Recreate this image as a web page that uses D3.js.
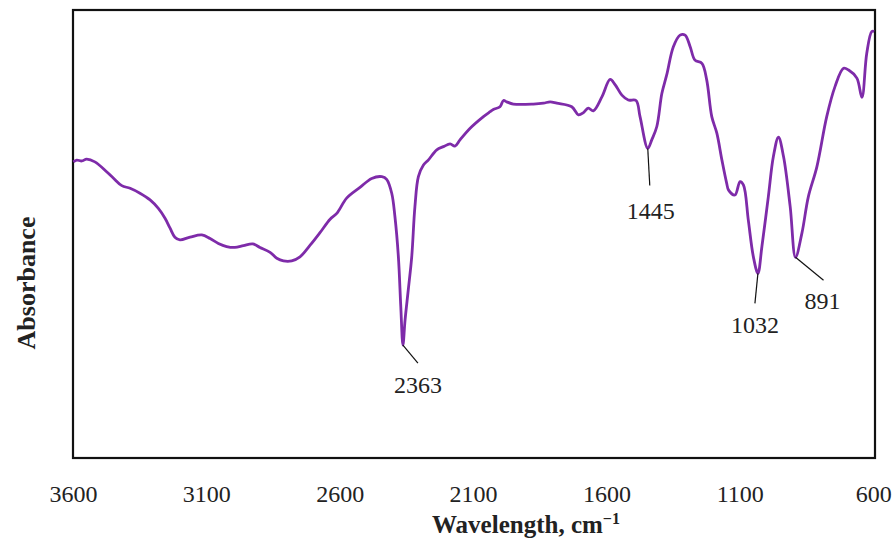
<!DOCTYPE html>
<html>
<head>
<meta charset="utf-8">
<script src="https://cdn.jsdelivr.net/npm/d3@7"></script>
<style>
  body { margin: 0; background: #fff; }
  text { font-family: "Liberation Serif", "DejaVu Serif", serif; fill: #222; }
</style>
</head>
<body>
<svg id="chart"></svg>
<script>
// FTIR spectrum (absorbance in arbitrary units)
var wavenumbers = [3599, 3586, 3567, 3549, 3518, 3474, 3449, 3417, 3386, 3349, 3311, 3280, 3255, 3236, 3218, 3199,
  3161, 3117, 3086, 3055, 3024, 2993, 2961, 2926, 2899, 2861, 2836, 2811, 2780, 2749, 2711, 2674, 2636, 2611, 2574,
  2524, 2480, 2442, 2424, 2405, 2393, 2380, 2371, 2363, 2355, 2343, 2330, 2318, 2305, 2286, 2268, 2236, 2211, 2186,
  2168, 2149, 2111, 2061, 2036, 2024, 1999, 1986, 1974, 1949, 1874, 1836, 1811, 1786, 1730, 1705, 1686, 1668, 1649,
  1617, 1586, 1567, 1542, 1518, 1489, 1474, 1445, 1430, 1411, 1392, 1374, 1349, 1324, 1305, 1286, 1268, 1242, 1224,
  1205, 1186, 1167, 1149, 1142, 1118, 1099, 1086, 1068, 1049, 1032, 1017, 993, 974, 955, 936, 911, 891, 867, 843,
  811, 774, 743, 711, 692, 661, 642, 624, 605, 596];
var absorbance = [0.661, 0.665, 0.663, 0.667, 0.661, 0.639, 0.625, 0.608, 0.602, 0.591, 0.576, 0.557, 0.535, 0.513, 0.493, 0.487,
  0.493, 0.498, 0.490, 0.479, 0.472, 0.470, 0.474, 0.478, 0.470, 0.459, 0.446, 0.440, 0.440, 0.449, 0.475, 0.503, 0.533, 0.546, 0.580,
  0.604, 0.624, 0.628, 0.622, 0.591, 0.539, 0.449, 0.338, 0.252, 0.308, 0.375, 0.449, 0.561, 0.628, 0.654, 0.665, 0.688, 0.695, 0.701,
  0.696, 0.710, 0.736, 0.762, 0.773, 0.778, 0.784, 0.798, 0.795, 0.790, 0.790, 0.792, 0.795, 0.792, 0.784, 0.766, 0.771, 0.781, 0.775,
  0.806, 0.845, 0.833, 0.810, 0.799, 0.798, 0.762, 0.691, 0.710, 0.740, 0.814, 0.855, 0.918, 0.944, 0.944, 0.918, 0.888, 0.881, 0.844,
  0.762, 0.725, 0.665, 0.613, 0.598, 0.587, 0.617, 0.609, 0.531, 0.449, 0.412, 0.472, 0.583, 0.673, 0.716, 0.673, 0.561, 0.448, 0.502, 0.583,
  0.650, 0.762, 0.829, 0.870, 0.866, 0.848, 0.805, 0.903, 0.952, 0.952];

var xTicks = [3600, 3100, 2600, 2100, 1600, 1100, 600];

// labelled peaks and where their leader line ends (pixels from the peak)
var peaks = [2363, 1445, 1032, 891];
var leadDx = [15, 2, -3, 28];
var leadDy = [18, 37, 30, 23];
var labelDx = [15, 3, -3, 27];
var labelDy = [48, 71, 60, 52];

var W = 896, H = 541;
var plotL = 73, plotR = 875, plotT = 10, plotB = 458;

var svg = d3.select('#chart').attr('width', W).attr('height', H);

var x = d3.scaleLinear().domain([3600, 593]).range([plotL, plotR]);
var y = d3.scaleLinear().domain([0, 1]).range([plotB, plotT]);

var data = wavenumbers.map(function(w, i) { return {w: w, a: absorbance[i]}; });

// frame
svg.append('rect')
  .attr('x', plotL).attr('y', plotT)
  .attr('width', plotR - plotL).attr('height', plotB - plotT)
  .attr('fill', 'none').attr('stroke', '#111').attr('stroke-width', 2.2);

// x axis labels only, no tick marks
var xAxis = d3.axisBottom(x).tickValues(xTicks).tickSize(0).tickPadding(0).tickFormat(d3.format('d'));
var gx = svg.append('g').attr('transform', 'translate(0,' + (plotB + 44) + ')').call(xAxis);
gx.select('.domain').remove();
gx.selectAll('text')
  .attr('dy', 0)
  .style('font-size', '24px')
  .style('font-family', '"Liberation Serif", serif')
  .attr('fill', '#222');

// spectrum
var line = d3.line()
  .x(function(d) { return x(d.w); })
  .y(function(d) { return y(d.a); })
  .curve(d3.curveCatmullRom.alpha(0.5));

svg.append('path')
  .datum(data)
  .attr('d', line)
  .attr('fill', 'none')
  .attr('stroke', '#7e2ba9')
  .attr('stroke-width', 2.8)
  .attr('stroke-linejoin', 'round');

// peak annotations
peaks.forEach(function(p, i) {
  var d = data.find(function(e) { return e.w === p; });
  var px = x(d.w), py = y(d.a);
  svg.append('line')
    .attr('x1', px).attr('y1', py)
    .attr('x2', px + leadDx[i]).attr('y2', py + leadDy[i])
    .attr('stroke', '#111').attr('stroke-width', 1.2);
  svg.append('text')
    .attr('x', px + labelDx[i]).attr('y', py + labelDy[i])
    .attr('text-anchor', 'middle')
    .style('font-size', '24px')
    .text(p);
});

// axis titles
var xt = svg.append('text')
  .attr('x', 432).attr('y', 533)
  .style('font-size', '25px').style('font-weight', 'bold');
xt.append('tspan').text('Wavelength, cm');
xt.append('tspan').attr('dy', -9).style('font-size', '16px').text('\u22121');

svg.append('text')
  .attr('transform', 'translate(35,283) rotate(-90)')
  .attr('text-anchor', 'middle')
  .style('font-size', '26px').style('font-weight', 'bold')
  .text('Absorbance');
</script>
</body>
</html>
